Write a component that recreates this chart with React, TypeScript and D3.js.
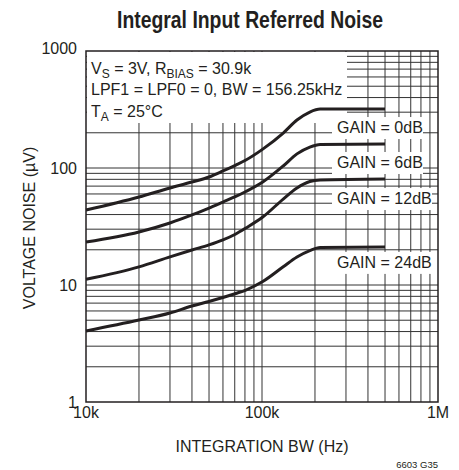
import React from "react";
import * as d3 from "d3";

const freqHz = [10000, 20000, 30000, 40000, 50000, 60000, 71000, 81000, 101000, 132000, 158000, 187000, 214000, 500000];
const gain0dB = [43.7, 56.5, 67.5, 75.9, 83.8, 94.3, 106, 117, 145, 199, 257, 301, 319, 319];
const gain6dB = [23.3, 28.4, 33.9, 39.7, 45.5, 51.2, 57.1, 63.0, 75.9, 104, 132, 151, 159, 160];
const gain12dB = [11.2, 14.3, 17.4, 19.9, 22.0, 24.3, 27.3, 30.7, 38.1, 54.3, 67.5, 76.7, 78.9, 80.5];
const gain24dB = [4.05, 5.02, 5.77, 6.61, 7.23, 7.82, 8.46, 9.06, 10.7, 14.3, 17.35, 19.7, 20.9, 21.1];

const seriesLabels = ["GAIN = 0dB", "GAIN = 6dB", "GAIN = 12dB", "GAIN = 24dB"];
const labelValues = [199, 100, 49.2, 14.0]; // value at label baseline
const xTicks = [1e4, 1e5, 1e6];
const xTickLabels = ["10k", "100k", "1M"];
const yTicks = [1, 10, 100, 1000];
const yTickLabels = ["1", "10", "100", "1000"];

const W = 459;
const H = 470;
const FONT = "'Liberation Sans', Arial, Helvetica, sans-serif";

export default function App() {
  const x = d3.scaleLog().domain([1e4, 1e6]).range([86, 438]);
  const y = d3.scaleLog().domain([1, 1000]).range([402, 51]);

  const vGrid: number[] = [];
  [1e4, 1e5].forEach((d) => {
    for (let k = 2; k <= 9; k++) vGrid.push(k * d);
  });
  vGrid.push(1e5);
  const hGrid: number[] = [];
  [1, 10, 100].forEach((d) => {
    for (let k = 2; k <= 9; k++) hGrid.push(k * d);
  });
  hGrid.push(10, 100);

  const line = d3
    .line<[number, number]>()
    .x((d) => x(d[0]))
    .y((d) => y(d[1]))
    .curve(d3.curveMonotoneX);

  const series = [gain0dB, gain6dB, gain12dB, gain24dB];
  const [x0, x1] = x.range();
  const [yb, yt] = y.range();
  const labelX = 337;
  const labelWidths = [95, 95, 104, 104];

  return (
    <svg width={W} height={H} style={{ position: "absolute", left: 0, top: 0, background: "#fff" }} fontFamily={FONT}>
      <rect x={0} y={0} width={W} height={H} fill="#fff" />
      <text x={250} y={28} textAnchor="middle" textLength={266} lengthAdjust="spacingAndGlyphs" fontWeight="bold" fontSize={24} fill="#231f20">
        Integral Input Referred Noise
      </text>
      <g stroke="#333" strokeWidth={1}>
        {vGrid.map((f, i) => (
          <line key={"v" + i} x1={x(f)} x2={x(f)} y1={yb} y2={yt} />
        ))}
        {hGrid.map((v, i) => (
          <line key={"h" + i} x1={x0} x2={x1} y1={y(v)} y2={y(v)} />
        ))}
      </g>
      <rect x={x0 + 1} y={yt + 1} width={346 - x0} height={122 - yt} fill="#fff" />
      {seriesLabels.map((s, i) => (
        <rect key={"lb" + i} x={labelX - 5} y={y(labelValues[i]) - 16} width={labelWidths[i] - 4} height={22} fill="#fff" />
      ))}
      <g fill="none" stroke="#231f20" strokeWidth={3} strokeLinejoin="round">
        {series.map((s, i) => (
          <path key={"s" + i} d={line(freqHz.map((f, j) => [f, s[j]] as [number, number])) || ""} />
        ))}
      </g>
      <rect x={x0} y={yt} width={x1 - x0} height={yb - yt} fill="none" stroke="#231f20" strokeWidth={1.5} />
      <g fontSize={16} fill="#231f20">
        {seriesLabels.map((s, i) => (
          <text key={"lt" + i} x={labelX} y={y(labelValues[i])}>
            {s}
          </text>
        ))}
        <text x={91} y={74}>
          V<tspan fontSize={12} dy={4}>S</tspan>
          <tspan dy={-4}> = 3V, R</tspan>
          <tspan fontSize={12} dy={4}>BIAS</tspan>
          <tspan dy={-4}> = 30.9k</tspan>
        </text>
        <text x={91} y={95}>LPF1 = LPF0 = 0, BW = 156.25kHz</text>
        <text x={91} y={117}>
          T<tspan fontSize={12} dy={4}>A</tspan>
          <tspan dy={-4}> = 25°C</tspan>
        </text>
        {xTicks.map((t, i) => (
          <text key={"xt" + i} x={x(t)} y={418} textAnchor="middle">
            {xTickLabels[i]}
          </text>
        ))}
        {yTicks.map((t, i) => (
          <text key={"yt" + i} x={77} y={y(t) - (i === 3 ? 3 : 0)} textAnchor="end" dominantBaseline="central">
            {yTickLabels[i]}
          </text>
        ))}
        <text x={262} y={452} textAnchor="middle">
          INTEGRATION BW (Hz)
        </text>
        <text transform={`translate(35,228) rotate(-90)`} textAnchor="middle">
          VOLTAGE NOISE (µV)
        </text>
      </g>
      <text x={438} y={468} textAnchor="end" fontSize={9.5} fill="#231f20">
        6603 G35
      </text>
    </svg>
  );
}
